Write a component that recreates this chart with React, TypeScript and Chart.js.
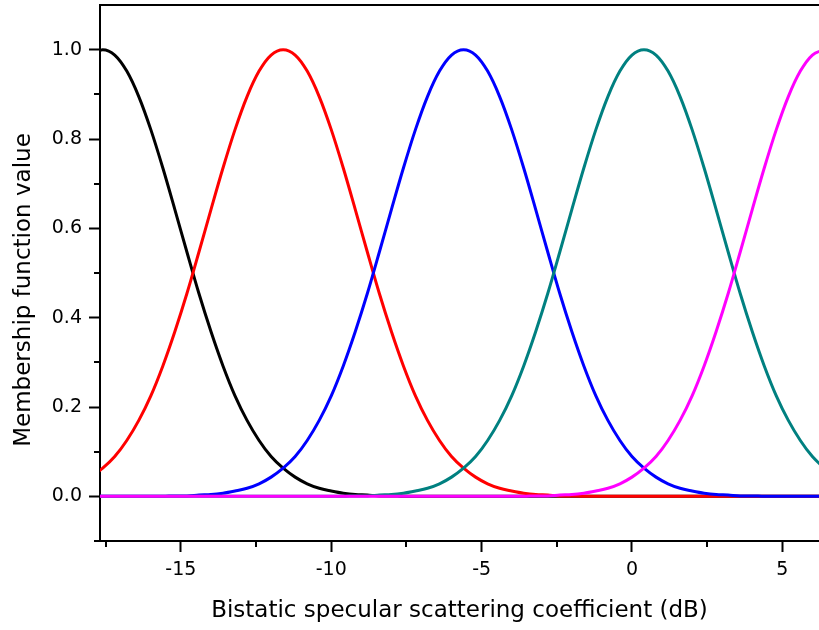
import React, { useEffect, useRef } from "react";
import { Chart, registerables } from "chart.js";

Chart.register(...registerables);

const xValues = [
  -18.0, -17.6, -17.2, -16.8, -16.4, -16.0, -15.6, -15.2, -14.8, -14.4,
  -14.0, -13.6, -13.2, -12.8, -12.4, -12.0, -11.6, -11.2, -10.8, -10.4,
  -10.0, -9.6, -9.2, -8.8, -8.4, -8.0, -7.6, -7.2, -6.8, -6.4,
  -6.0, -5.6, -5.2, -4.8, -4.4, -4.0, -3.6, -3.2, -2.8, -2.4,
  -2.0, -1.6, -1.2, -0.8, -0.4, 0.0, 0.4, 0.8, 1.2, 1.6,
  2.0, 2.4, 2.8, 3.2, 3.6, 4.0, 4.4, 4.8, 5.2, 5.6,
  6.0, 6.4,
];

const blackSeries = [
  0.988, 1, 0.988, 0.952, 0.895, 0.821, 0.735, 0.642, 0.547, 0.454,
  0.369, 0.292, 0.225, 0.17, 0.125, 0.089, 0.063, 0.043, 0.028, 0.018,
  0.012, 0.007, 0.004, 0.003, 0.001, 0.001, 0, 0, 0, 0,
  0, 0, 0, 0, 0, 0, 0, 0, 0, 0,
  0, 0, 0, 0, 0, 0, 0, 0, 0, 0,
  0, 0, 0, 0, 0, 0, 0, 0, 0, 0,
  0, 0,
];

const redSeries = [
  0.043, 0.063, 0.089, 0.125, 0.17, 0.225, 0.292, 0.369, 0.454, 0.547,
  0.642, 0.735, 0.821, 0.895, 0.952, 0.988, 1, 0.988, 0.952, 0.895,
  0.821, 0.735, 0.642, 0.547, 0.454, 0.369, 0.292, 0.225, 0.17, 0.125,
  0.089, 0.063, 0.043, 0.028, 0.018, 0.012, 0.007, 0.004, 0.003, 0.001,
  0.001, 0, 0, 0, 0, 0, 0, 0, 0, 0,
  0, 0, 0, 0, 0, 0, 0, 0, 0, 0,
  0, 0,
];

const blueSeries = [
  0, 0, 0, 0, 0, 0, 0, 0.001, 0.001, 0.003,
  0.004, 0.007, 0.012, 0.018, 0.028, 0.043, 0.063, 0.089, 0.125, 0.17,
  0.225, 0.292, 0.369, 0.454, 0.547, 0.642, 0.735, 0.821, 0.895, 0.952,
  0.988, 1, 0.988, 0.952, 0.895, 0.821, 0.735, 0.642, 0.547, 0.454,
  0.369, 0.292, 0.225, 0.17, 0.125, 0.089, 0.063, 0.043, 0.028, 0.018,
  0.012, 0.007, 0.004, 0.003, 0.001, 0.001, 0, 0, 0, 0,
  0, 0,
];

const tealSeries = [
  0, 0, 0, 0, 0, 0, 0, 0, 0, 0,
  0, 0, 0, 0, 0, 0, 0, 0, 0, 0,
  0, 0, 0.001, 0.001, 0.003, 0.004, 0.007, 0.012, 0.018, 0.028,
  0.043, 0.063, 0.089, 0.125, 0.17, 0.225, 0.292, 0.369, 0.454, 0.547,
  0.642, 0.735, 0.821, 0.895, 0.952, 0.988, 1, 0.988, 0.952, 0.895,
  0.821, 0.735, 0.642, 0.547, 0.454, 0.369, 0.292, 0.225, 0.17, 0.125,
  0.089, 0.063,
];

const magentaSeries = [
  0, 0, 0, 0, 0, 0, 0, 0, 0, 0,
  0, 0, 0, 0, 0, 0, 0, 0, 0, 0,
  0, 0, 0, 0, 0, 0, 0, 0, 0, 0,
  0, 0, 0, 0, 0, 0, 0, 0.001, 0.001, 0.003,
  0.004, 0.007, 0.012, 0.018, 0.028, 0.043, 0.063, 0.089, 0.125, 0.17,
  0.225, 0.292, 0.369, 0.454, 0.547, 0.642, 0.735, 0.821, 0.895, 0.952,
  0.988, 1,
];

const xTickValues = [-15, -10, -5, 0, 5];
const xMinorTickValues = [-17.5, -12.5, -7.5, -2.5, 2.5];
const yTickValues = [0, 0.2, 0.4, 0.6, 0.8, 1.0];
const yMinorTickValues = [0.1, 0.3, 0.5, 0.7, 0.9];

const xAxisTitle = "Bistatic specular scattering coefficient (dB)";
const yAxisTitle = "Membership function value";

const FONT = "'DejaVu Sans', 'Liberation Sans', sans-serif";

export default function App() {
  const canvasRef = useRef<HTMLCanvasElement | null>(null);

  useEffect(() => {
    document.body.style.margin = "0";
    const canvas = canvasRef.current;
    if (!canvas) return;

    const seriesDefs = [
      { data: blackSeries, color: "#000000", order: 5 },
      { data: redSeries, color: "#ff0000", order: 4 },
      { data: blueSeries, color: "#0000ff", order: 3 },
      { data: tealSeries, color: "#008080", order: 2 },
      { data: magentaSeries, color: "#ff00ff", order: 1 },
    ];

    const decorPlugin = {
      id: "decor",
      afterDraw(chart: any) {
        const { ctx, chartArea } = chart;
        const xs = chart.scales.x;
        const ys = chart.scales.y;
        ctx.save();
        ctx.strokeStyle = "#000";
        ctx.lineWidth = 2;
        ctx.beginPath();
        // top frame line
        ctx.moveTo(chartArea.left - 1, chartArea.top);
        ctx.lineTo(chartArea.right, chartArea.top);
        // small extension of the bottom axis past the left axis
        ctx.moveTo(chartArea.left - 6, chartArea.bottom);
        ctx.lineTo(chartArea.left, chartArea.bottom);
        // minor ticks
        xMinorTickValues.forEach((v) => {
          const px = Math.round(xs.getPixelForValue(v));
          ctx.moveTo(px, chartArea.bottom);
          ctx.lineTo(px, chartArea.bottom + 6);
        });
        yMinorTickValues.forEach((v) => {
          const py = Math.round(ys.getPixelForValue(v));
          ctx.moveTo(chartArea.left, py);
          ctx.lineTo(chartArea.left - 6, py);
        });
        ctx.stroke();
        // y axis title
        ctx.translate(24, (chartArea.top + chartArea.bottom) / 2 + 17);
        ctx.rotate(-Math.PI / 2);
        ctx.font = `23px ${FONT}`;
        ctx.fillStyle = "#000";
        ctx.textAlign = "center";
        ctx.textBaseline = "middle";
        ctx.fillText(yAxisTitle, 0, 0);
        ctx.restore();
      },
    };

    const chart = new Chart(canvas, {
      type: "line",
      data: {
        datasets: seriesDefs.map((s) => ({
          data: xValues.map((x, i) => ({ x, y: s.data[i] })),
          borderColor: s.color,
          backgroundColor: s.color,
          borderWidth: 3,
          pointRadius: 0,
          fill: false,
          cubicInterpolationMode: "monotone" as const,
          order: s.order,
          clip: 0,
        })),
      },
      options: {
        animation: false,
        responsive: false,
        maintainAspectRatio: false,
        layout: { padding: { top: 5, left: 0, right: 0, bottom: 0 } },
        plugins: {
          legend: { display: false },
          tooltip: { enabled: false },
        },
        scales: {
          x: {
            type: "linear",
            min: -17.69,
            max: 6.22,
            afterBuildTicks: (scale: any) => {
              scale.ticks = xTickValues.map((v) => ({ value: v }));
            },
            afterFit: (scale: any) => {
              scale.height = 89;
              scale.paddingLeft = 0;
              scale.paddingRight = 0;
            },
            ticks: {
              color: "#000",
              font: { family: FONT, size: 19 },
              padding: 7,
              maxRotation: 0,
              autoSkip: false,
              callback: (v: any) => String(v),
            },
            grid: {
              display: true,
              drawOnChartArea: false,
              drawTicks: true,
              tickLength: 11,
              tickWidth: 2,
              tickColor: "#000",
              color: "#000",
            },
            border: { display: true, color: "#000", width: 2 },
            title: {
              display: true,
              text: xAxisTitle,
              color: "#000",
              font: { family: FONT, size: 23 },
              padding: { top: 0, bottom: 5 },
            },
          },
          y: {
            type: "linear",
            min: -0.1,
            max: 1.1,
            afterBuildTicks: (scale: any) => {
              scale.ticks = yTickValues.map((v) => ({ value: v }));
            },
            afterFit: (scale: any) => {
              scale.width = 100;
              scale.paddingTop = 0;
              scale.paddingBottom = 0;
            },
            ticks: {
              color: "#000",
              font: { family: FONT, size: 19 },
              padding: 7,
              callback: (v: any) => Number(v).toFixed(1),
            },
            grid: {
              display: true,
              drawOnChartArea: false,
              drawTicks: true,
              tickLength: 11,
              tickWidth: 2,
              tickColor: "#000",
              color: "#000",
            },
            border: { display: true, color: "#000", width: 2 },
            title: { display: false },
          },
        },
      },
      plugins: [decorPlugin],
    });

    return () => {
      chart.destroy();
    };
  }, []);

  return (
    <div style={{ width: 819, height: 630, background: "#fff" }}>
      <canvas ref={canvasRef} width={819} height={630} style={{ display: "block" }} />
    </div>
  );
}
